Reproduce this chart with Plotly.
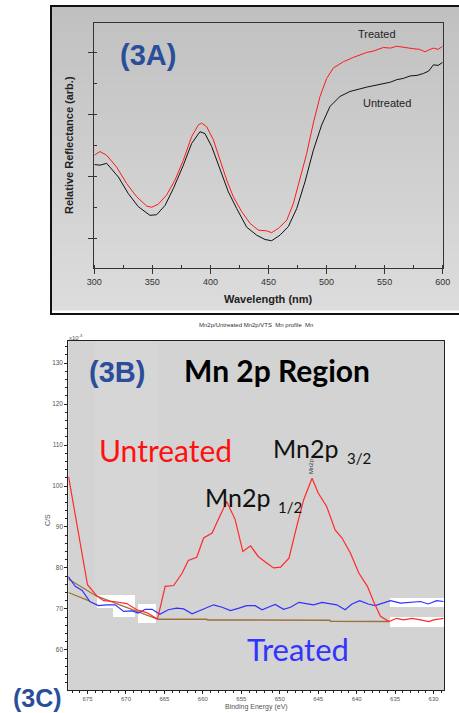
import plotly.graph_objects as go

# ---------------- Data: panel 3A (reflectance) ----------------
wl_treated = [300, 304.9, 310.6, 319.2, 327.8, 336.5, 345.1, 349.4, 355.1, 362.3, 369.5, 376.7,
              383.8, 389.6, 392.4, 396.8, 402.5, 408.3, 414.0, 419.7, 426.9, 434.1, 441.3, 448.4,
              452.7, 458.5, 465.7, 471.4, 477.1, 482.9, 488.6, 494.4, 500.1, 505.9, 514.5, 523.1,
              534.6, 540.0, 548.9, 555.0, 560.4, 566.0, 574.8, 580.0, 584.8, 588.0, 592.0, 596.0, 600]
refl_treated = [2.34, 2.40, 2.34, 2.15, 1.885, 1.67, 1.52, 1.50, 1.55, 1.70, 1.94, 2.26,
                2.64, 2.83, 2.86, 2.80, 2.59, 2.26, 1.94, 1.67, 1.43, 1.24, 1.13, 1.12,
                1.09, 1.16, 1.29, 1.56, 1.94, 2.37, 2.86, 3.29, 3.58, 3.75, 3.85, 3.92,
                4.00, 4.02, 4.08, 4.07, 4.10, 4.08, 4.06, 4.05, 4.01, 4.04, 4.07, 4.05, 4.10]

wl_untreated = [300, 305.0, 310.6, 320.7, 329.3, 337.9, 347.9, 353.7, 360.9, 368.0, 376.7, 383.8,
                391.0, 395.3, 401.1, 408.2, 415.4, 422.6, 431.2, 439.8, 447.0, 452.7, 459.9, 467.1,
                474.3, 481.4, 488.6, 495.8, 503.0, 511.6, 520.2, 534.6, 548.9, 555.0, 560.4, 566.0,
                571.9, 578.0, 583.4, 588.0, 592.0, 596.0, 600]
refl_untreated = [2.19, 2.18, 2.21, 1.99, 1.72, 1.51, 1.37, 1.38, 1.53, 1.80, 2.18, 2.53,
                  2.72, 2.69, 2.48, 2.10, 1.75, 1.48, 1.18, 1.05, 0.98, 0.96, 1.05, 1.19,
                  1.48, 1.91, 2.42, 2.83, 3.13, 3.29, 3.37, 3.44, 3.50, 3.52, 3.56, 3.58,
                  3.62, 3.63, 3.66, 3.70, 3.80, 3.79, 3.84]

tick_wl = [300, 350, 400, 450, 500, 550, 600]

# ---------------- Data: panel 3B (XPS Mn 2p) ----------------
be_untreated = [677.47, 677.0, 675.0, 673.8, 672.9, 671.6, 669.9, 668.6, 667.3, 665.9, 664.9, 663.8,
                662.7, 661.9, 660.8, 659.9, 658.8, 657.8, 656.9, 655.8, 654.8, 653.8, 652.8, 651.7,
                650.8, 649.9, 648.8, 647.8, 646.9, 645.8, 645.0, 643.9, 642.8, 641.9, 640.8, 639.7,
                638.6, 637.8, 636.9, 635.8, 634.8, 633.9, 632.8, 631.7, 630.6, 630.0, 628.7]
cps_untreated = [102.3, 97.4, 75.9, 73.2, 72.0, 71.8, 71.3, 69.8, 69.1, 67.5, 75.5, 75.7,
                 78.7, 81.8, 82.6, 87.3, 88.5, 92.6, 96.2, 91.8, 84.0, 85.4, 82.8, 81.2,
                 80.0, 80.2, 82.4, 90.1, 96.6, 101.9, 98.3, 95.0, 89.3, 87.3, 83.6, 78.7,
                 75.5, 71.8, 68.2, 66.9, 67.7, 67.3, 67.7, 67.3, 66.9, 67.3, 67.7]

be_treated = [677.5, 676.6, 675.7, 674.7, 673.6, 672.5, 671.4, 670.3, 669.2, 668.4, 667.5, 666.6,
              665.6, 664.5, 663.4, 662.5, 661.4, 660.3, 658.6, 657.5, 656.4, 655.3, 654.3, 653.2,
              652.3, 651.5, 650.6, 649.5, 648.6, 647.5, 646.5, 645.6, 644.5, 643.5, 642.6, 641.5,
              640.6, 639.6, 638.5, 637.6, 636.5, 635.6, 634.3, 633.0, 631.7, 630.7, 629.6, 628.7]
cps_treated = [77.9, 75.5, 74.5, 71.8, 70.8, 71.0, 71.0, 69.4, 69.5, 69.0, 69.9, 69.9,
               68.7, 69.8, 70.2, 70.0, 68.8, 69.6, 71.0, 70.4, 69.6, 70.2, 70.8, 70.8,
               69.8, 70.4, 71.1, 69.9, 70.4, 71.6, 71.2, 71.0, 71.6, 71.2, 71.0, 69.8,
               71.2, 72.0, 71.2, 70.8, 71.4, 72.0, 71.4, 71.6, 71.8, 71.2, 72.0, 71.8]

be_bg_upper = [677.5, 673.8, 665.9]
cps_bg_upper = [77.3, 73.1, 67.5]
be_bg_lower = [677.5, 674.7]
cps_bg_lower = [74.0, 71.9]
be_bg_flat = [665.9, 659.5, 659.4, 652.5, 652.4, 643.5, 643.4, 635.8]
cps_bg_flat = [67.5, 67.5, 67.3, 67.3, 67.2, 67.2, 67.0, 66.9]

tick_be = [675, 670, 665, 660, 655, 650, 645, 640, 635, 630]
tick_cps = [60, 70, 80, 90, 100, 110, 120, 130]

# ---------------- Layout helpers ----------------
W, H = 459, 713
def fx(p):
    return p / W
def fy(p):
    return 1 - p / H

fig = go.Figure()

fig.add_trace(go.Scatter(x=wl_untreated, y=refl_untreated, mode="lines",
                         line=dict(color="#111111", width=1), xaxis="x", yaxis="y", showlegend=False))
fig.add_trace(go.Scatter(x=wl_treated, y=refl_treated, mode="lines",
                         line=dict(color="#ff1a1a", width=1), xaxis="x", yaxis="y", showlegend=False))

fig.add_trace(go.Scatter(x=be_bg_upper, y=cps_bg_upper, mode="lines",
                         line=dict(color="#a0703c", width=1.3), xaxis="x2", yaxis="y2", showlegend=False))
fig.add_trace(go.Scatter(x=be_bg_lower, y=cps_bg_lower, mode="lines",
                         line=dict(color="#a0703c", width=1.3), xaxis="x2", yaxis="y2", showlegend=False))
fig.add_trace(go.Scatter(x=be_bg_flat, y=cps_bg_flat, mode="lines",
                         line=dict(color="#a0703c", width=1.5), xaxis="x2", yaxis="y2", showlegend=False))
fig.add_trace(go.Scatter(x=be_treated, y=cps_treated, mode="lines",
                         line=dict(color="#3030ff", width=1.2), xaxis="x2", yaxis="y2", showlegend=False))
fig.add_trace(go.Scatter(x=be_untreated, y=cps_untreated, mode="lines",
                         line=dict(color="#ff2a2a", width=1.2), xaxis="x2", yaxis="y2", showlegend=False))

shapes = []
# panel 3A gradient background inside frame (overlapping bands, no seams)
top, bot = 7, 313
n = 40
c0, c1 = 192, 221
for i in range(n):
    y0 = top + (bot - top) * i / n
    y1 = top + (bot - top) * (i + 1) / n + 1.0
    c = int(round(c0 + (c1 - c0) * (i + 0.5) / n))
    shapes.append(dict(type="rect", xref="paper", yref="paper", x0=fx(51), x1=1.0,
                       y0=fy(min(y1, bot)), y1=fy(y0), fillcolor=f"rgb({c},{c},{c})", line=dict(width=0),
                       layer="below"))
# white strip at bottom of frame
shapes.append(dict(type="rect", xref="paper", yref="paper", x0=fx(51), x1=1.0, y0=fy(313), y1=fy(310.5),
                   fillcolor="white", line=dict(width=0), layer="below"))
# frame 3A
shapes.append(dict(type="rect", xref="paper", yref="paper", x0=fx(51), x1=fx(462), y0=fy(314), y1=fy(6),
                   fillcolor="rgba(0,0,0,0)", line=dict(color="#111111", width=2), layer="below"))

# panel 3B plot background
shapes.append(dict(type="rect", xref="paper", yref="paper", x0=fx(68.3), x1=fx(444.3), y0=fy(690), y1=fy(341),
                   fillcolor="#d3d3d3", line=dict(width=0), layer="below"))
shapes.append(dict(type="rect", xref="paper", yref="paper", x0=fx(95), x1=fx(158), y0=fy(600), y1=fy(341),
                   fillcolor="#d6d6d6", line=dict(width=0), layer="below"))
# white patches
for (a, b, c, d) in [(97, 135, 595, 608), (113, 135, 608, 617), (138, 156, 604, 623),
                     (390, 444, 598, 607), (390, 444, 617, 627)]:
    shapes.append(dict(type="rect", xref="paper", yref="paper", x0=fx(a), x1=fx(b), y0=fy(d), y1=fy(c),
                       fillcolor="white", line=dict(width=0), layer="below"))

ann = []
def A(text, x, y, size, color="black", family="Liberation Sans", bold=False, angle=0, xanchor="center"):
    t = f"<b>{text}</b>" if bold else text
    ann.append(dict(text=t, x=fx(x), y=fy(y), xref="paper", yref="paper", showarrow=False,
                    font=dict(size=size, color=color, family=family), textangle=angle,
                    xanchor=xanchor, yanchor="middle"))

blue = "#2b4e9b"
A("(3A)", 148, 55, 29, blue, bold=True)
A("Treated", 377, 34, 11, "#222222")
A("Untreated", 387, 103, 11, "#222222")
A("Wavelength (nm)", 268, 299, 11, "#222222", bold=True)
A("Relative Reflectance (arb.)", 69, 145, 11, "#222222", bold=True, angle=-90)

A("Mn2p/Untreated Mn2p/VTS  Mn profile  Mn", 256, 325, 6, "#333333")
A("x10<sup>-3</sup>", 76, 337, 6, "#555555")
A("(3B)", 117, 372, 29, blue, bold=True)
A("Mn 2p Region", 277, 370, 30, "black", family="Lato", bold=True)
A("Untreated", 165, 450, 30, "#ff1010", family="Lato")
A("Mn2p", 306, 448, 25, "#111111", family="Lato")
A("3/2", 359, 458, 15, "#111111", family="Lato")
A("Mn2p", 238, 497, 25, "#111111", family="Lato")
A("1/2", 290, 507, 15, "#111111", family="Lato")
A("Mn2p", 311, 466, 6, "#333333", angle=-90)
A("Treated", 298, 649, 31, "#3333ff", family="Lato")
A("Binding Energy (eV)", 256, 707, 7, "#555555")
A("C/S", 47, 520, 7, "#555555", angle=-90)
A("(3C)", 37, 698, 25, blue, bold=True)

fig.update_layout(
    width=W, height=H, margin=dict(l=0, r=0, t=0, b=0, autoexpand=False),
    paper_bgcolor="white", plot_bgcolor="rgba(0,0,0,0)",
    shapes=shapes, annotations=ann, showlegend=False,
    xaxis=dict(domain=[fx(94.3), fx(442.7)], range=[300, 600], anchor="y", automargin=False,
               tickvals=tick_wl, ticks="outside", ticklen=5, tickcolor="#333333",
               minor=dict(dtick=25, ticks="inside", ticklen=3, tickcolor="#333333"),
               showline=True, linecolor="#333333", linewidth=1.2, mirror=True, showgrid=False, zeroline=False,
               tickfont=dict(size=9, color="#333333", family="Liberation Sans")),
    yaxis=dict(domain=[fy(268.3), fy(22.7)], range=[0.515, 4.48], anchor="x", automargin=False,
               tickvals=[1, 2, 3, 4], showticklabels=False, ticks="outside", ticklen=5, tickcolor="#333333",
               minor=dict(dtick=0.5, tick0=0.5, ticks="inside", ticklen=3, tickcolor="#333333"),
               showline=True, linecolor="#333333", linewidth=1.2, mirror=True, showgrid=False, zeroline=False),
    xaxis2=dict(domain=[fx(68.3), fx(444.3)], range=[677.5, 628.6], anchor="y2", automargin=False,
                tickvals=tick_be, ticks="outside", ticklen=3, tickcolor="#222222",
                minor=dict(dtick=1, tick0=0, ticks="outside", ticklen=2, tickcolor="#222222"),
                showline=True, linecolor="#222222", linewidth=1, mirror=True, showgrid=False, zeroline=False,
                tickfont=dict(size=6, color="#555555", family="Liberation Sans")),
    yaxis2=dict(domain=[fy(690), fy(341)], range=[50.2, 135.4], anchor="x2", automargin=False,
                tickvals=tick_cps, ticks="outside", ticklen=3, tickcolor="#222222",
                minor=dict(dtick=2, tick0=0, ticks="outside", ticklen=2, tickcolor="#222222"),
                showline=True, linecolor="#222222", linewidth=1, mirror=True, showgrid=False, zeroline=False,
                tickfont=dict(size=6.5, color="#555555", family="Liberation Sans")),
)

fig.write_html("out.html", config={"displayModeBar": False},
               post_script="document.body.style.margin='0';")
